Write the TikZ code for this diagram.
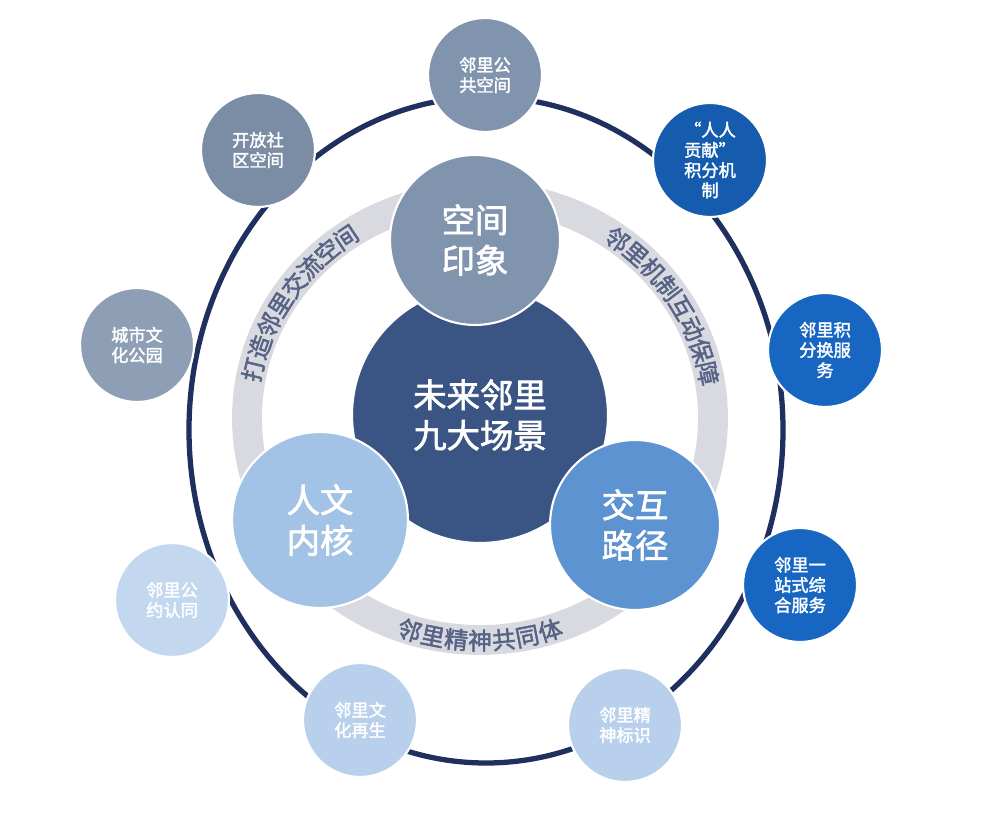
\documentclass[tikz,border=0pt]{standalone}
\usepackage{fontspec}
\setmainfont{Noto Sans CJK SC}
\newfontfamily\cjkb{Noto Sans CJK SC}[FakeBold=2]
\usetikzlibrary{decorations.text}
\definecolor{navy}{HTML}{1F2F5E}
\definecolor{ringg}{HTML}{D9DADF}
\definecolor{cmid}{HTML}{3A5583}
\definecolor{cgray}{HTML}{8194AD}
\definecolor{clight}{HTML}{A3C3E6}
\definecolor{cblue}{HTML}{5D93D1}
\definecolor{cdeep}{HTML}{1766C2}
\definecolor{cpale}{HTML}{B8D0EC}
\begin{document}
\begin{tikzpicture}[x=0.02cm,y=0.02cm,
  ball/.style={circle,draw=white,line width=1.2pt,text=white,align=center,font=\cjkb\fontsize{9.8}{11.5}\selectfont,inner sep=0pt},
  small/.style={ball,minimum size=2.28cm},
  big/.style={ball,font=\cjkb\fontsize{19}{23}\selectfont},
  ringtext/.style={decorate,decoration={text along path,text align=center,raise=-5.5pt,text={|\cjkb\fontsize{13.5}{14}\selectfont\color{navy!75}|#1}}}]
\useasboundingbox (0,0) rectangle (1000,831);
\draw[navy,line width=3pt] (486,401) ellipse [x radius=297,y radius=333];
\draw[ringg,line width=17pt] (480,413) ellipse [x radius=233,y radius=222];
\path[ringtext={打造邻里交流空间}] ([shift={(178:233 and 222)}]480,413) arc [start angle=178,end angle=115,x radius=233,y radius=222];
\path[ringtext={邻里机制互动保障}] ([shift={(65:233 and 222)}]480,413) arc [start angle=65,end angle=0,x radius=233,y radius=222];
\path[ringtext={邻里精神共同体}] ([shift={(245:233 and 222)}]480,413) arc [start angle=245,end angle=295,x radius=233,y radius=222];
\node[big,fill=cmid,minimum size=5.12cm] (c) at (480,416) {未来邻里\\九大场景};
\node[big,fill=cgray,minimum size=3.4cm] (s1) at (475,591) {空间\\印象};
\node[big,fill=clight,minimum size=3.52cm] (s2) at (320,311) {人文\\内核};
\node[big,fill=cblue,minimum size=3.4cm] (s3) at (635,306) {交互\\路径};
\node[small,fill=cgray] (a1) at (485,756) {邻里公\\共空间};
\node[small,fill=cgray!95!black] (a2) at (258,681) {开放社\\区空间};
\node[small,fill=cgray!90!white] (a3) at (137,486) {城市文\\化公园};
\node[small,fill=cpale!85!white] (a4) at (172,231) {邻里公\\约认同};
\node[small,fill=cpale] (a5) at (360,111) {邻里文\\化再生};
\node[small,fill=cpale] (a6) at (625,106) {邻里精\\神标识};
\node[small,fill=cdeep] (a7) at (800,246) {邻里一\\站式综\\合服务};
\node[small,fill=cdeep] (a8) at (825,481) {邻里积\\分换服\\务};
\node[small,fill=cdeep!90!black] (a9) at (710,671) {“人人\\贡献”\\积分机\\制};
\end{tikzpicture}
\end{document}
